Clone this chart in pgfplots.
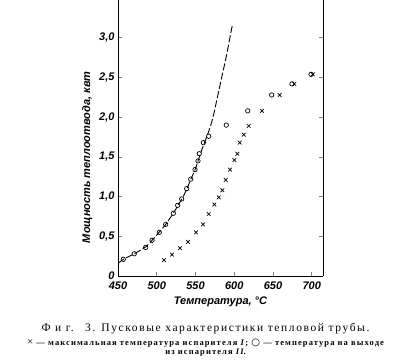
\documentclass[border=0pt]{standalone}
\usepackage{fontspec}
\setmainfont{Liberation Serif}
\setsansfont{Liberation Sans}
\newfontfamily\dejavu{DejaVu Sans}
\usepackage{pgfplots}
\pgfplotsset{compat=1.18}
\begin{document}
\begin{tikzpicture}[x=1pt,y=1pt]
\path[use as bounding box] (-118,-83) rectangle (293,276);
\begin{axis}[at={(0,0)}, anchor=south west, scale only axis, width=205pt, height=276pt,
 xmin=450, xmax=714.5, ymin=0, ymax=3.476,
 axis x line=bottom, axis y line=box, axis line style={-, line width=0.8pt},
 xtick={450,500,...,700}, ytick={0,0.5,1.0,1.5,2.0,2.5,3.0},
 yticklabels={0,{0,5},{1,0},{1,5},{2,0},{2,5},{3,0}},
 tick align=inside, major tick length=4pt, tick style={line width=0.7pt},
 /pgf/number format/assume math mode=true,
 ticklabel style={font=\sffamily\bfseries\itshape\fontsize{11}{12}\selectfont},
 xticklabel style={yshift=-2.5pt},
 xlabel={Температура, °C}, ylabel={Мощность теплоотвода, квт},
 label style={font=\sffamily\bfseries\itshape\fontsize{11}{12}\selectfont},
 ylabel style={at={(ticklabel cs:0.43)}},
]
\addplot[black, line width=0.9pt, smooth, dash pattern=on 7pt off 2.5pt] coordinates {
(450.4,0.16) (457,0.21) (471,0.28) (486,0.37) (494,0.45) (503,0.55) (511.5,0.65) (521.4,0.79) (528,0.90) (533,0.98) (539,1.10) (544,1.22) (549.5,1.34) (555,1.50) (560,1.64) (567,1.82) (572.6,2.0) (578,2.24) (583.8,2.5) (590,2.78) (597.5,3.16)};
\addplot[only marks, mark=o, mark size=2.2pt, mark options={line width=0.7pt}] coordinates {
(456.8,0.21) (471,0.28) (485.7,0.36) (493.9,0.45) (503.3,0.55) (511.5,0.65) (521.4,0.79) (527,0.89) (532.2,0.97) (538.6,1.10) (543.8,1.22) (549.4,1.34) (553.2,1.45) (554.9,1.54) (560.1,1.68) (567,1.76) (589.7,1.90) (617.4,2.08) (648.3,2.28) (674.5,2.42) (699,2.54)};
\addplot[only marks, mark=x, mark size=2.6pt, mark options={line width=0.7pt}] coordinates {
(509.4,0.20) (519.7,0.27) (530,0.35) (540.3,0.43) (550.6,0.55) (559.7,0.65) (567,0.78) (574.3,0.90) (579.9,0.99) (584.6,1.08) (589,1.21) (594.5,1.34) (600.1,1.46) (603.9,1.54) (607,1.68) (612.2,1.78) (618.6,1.89) (635.8,2.08) (658.6,2.28) (677.5,2.42) (701.2,2.54)};
\end{axis}
\node[anchor=base, font=\fontsize{11.5}{12}\selectfont\addfontfeature{LetterSpace=14}] at (87.5,-55) {Ф и г.\quad 3. Пусковые характеристики тепловой трубы.};
\node[anchor=base, font=\fontsize{8.5}{9}\selectfont\bfseries\addfontfeature{LetterSpace=13}] at (87.5,-69) {{\mdseries\fontsize{11}{9}\selectfont ×} — максимальная температура испарителя \textit{I}; {\dejavu\mdseries\fontsize{10}{9}\selectfont ○} — температура на выходе};
\node[anchor=base, font=\fontsize{8.5}{9}\selectfont\bfseries\addfontfeature{LetterSpace=13}] at (87.5,-78) {из испарителя \textit{II}.};
\end{tikzpicture}
\end{document}
